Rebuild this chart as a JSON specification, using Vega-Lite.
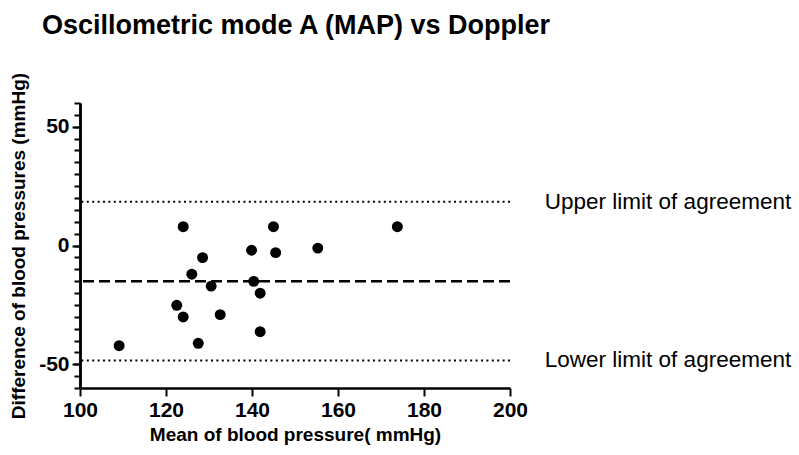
{
  "$schema": "https://vega.github.io/schema/vega-lite/v6.json",
  "width": 430,
  "height": 285,
  "autosize": {"type": "none"},
  "padding": {"left": 80, "top": 103, "right": 289, "bottom": 67},
  "background": "white",
  "title": {
    "text": "Oscillometric mode A (MAP) vs Doppler",
    "anchor": "start",
    "frame": "group",
    "dx": -38,
    "offset": 32,
    "font": "Liberation Sans",
    "fontSize": 27,
    "fontWeight": "bold",
    "color": "black"
  },
  "config": {
    "view": {"stroke": null},
    "axis": {
      "domainColor": "black",
      "domainWidth": 2.5,
      "tickColor": "black",
      "tickWidth": 2,
      "labelColor": "black",
      "titleColor": "black",
      "labelFont": "Liberation Sans",
      "titleFont": "Liberation Sans",
      "labelFontWeight": "bold",
      "titleFontWeight": "bold",
      "labelFontSize": 21,
      "titleFontSize": 19,
      "labelOverlap": false,
      "labelFlush": false,
      "grid": false
    }
  },
  "resolve": {"axis": {"y": "independent"}},
  "datasets": {
    "points": [
      {"mean": 109.1, "diff": -42.2},
      {"mean": 124.0, "diff": 7.9},
      {"mean": 128.5, "diff": -5.1},
      {"mean": 126.0, "diff": -12.1},
      {"mean": 130.5, "diff": -17.1},
      {"mean": 122.5, "diff": -25.2},
      {"mean": 124.0, "diff": -30.1},
      {"mean": 132.6, "diff": -29.1},
      {"mean": 127.5, "diff": -41.2},
      {"mean": 139.9, "diff": -2.0},
      {"mean": 145.0, "diff": 7.9},
      {"mean": 145.5, "diff": -3.0},
      {"mean": 140.4, "diff": -15.1},
      {"mean": 141.9, "diff": -20.1},
      {"mean": 141.9, "diff": -36.3},
      {"mean": 155.3, "diff": -1.1},
      {"mean": 173.8, "diff": 7.9}
    ],
    "limits": [
      {"label": "Upper limit of agreement", "value": 18.4},
      {"label": "Lower limit of agreement", "value": -48.4}
    ],
    "bias": [
      {"label": "Bias", "value": -15.0}
    ]
  },
  "layer": [
    {
      "data": {"name": "limits"},
      "mark": {"type": "rule", "strokeDash": [2, 3.4], "strokeWidth": 2, "color": "black"},
      "encoding": {
        "y": {
          "field": "value",
          "type": "quantitative",
          "scale": {"domain": [-60, 60], "nice": false, "zero": false},
          "axis": {
            "orient": "left",
            "title": null,
            "labels": false,
            "values": [-60, -55, -50, -45, -40, -35, -30, -25, -20, -15, -10, -5, 0, 5, 10, 15, 20, 25, 30, 35, 40, 45, 50, 55, 60],
            "tickSize": 6
          }
        }
      }
    },
    {
      "data": {"name": "bias"},
      "mark": {"type": "rule", "strokeDash": [11, 5], "strokeWidth": 2.5, "color": "black"},
      "encoding": {
        "y": {"field": "value", "type": "quantitative", "axis": null}
      }
    },
    {
      "data": {"name": "points"},
      "mark": {"type": "circle", "size": 120, "color": "black", "opacity": 1},
      "encoding": {
        "x": {
          "field": "mean",
          "type": "quantitative",
          "scale": {"domain": [100, 200], "nice": false, "zero": false},
          "axis": {
            "title": "Mean of blood pressure( mmHg)",
            "values": [100, 120, 140, 160, 180, 200],
            "tickSize": 8,
            "labelPadding": 3,
            "titlePadding": 5
          }
        },
        "y": {
          "field": "diff",
          "type": "quantitative",
          "axis": {
            "orient": "left",
            "title": "Difference of blood pressures (mmHg)",
            "values": [-50, 0, 50],
            "labelExpr": "datum.value < 0 ? '-' + abs(datum.value) : '' + datum.value",
            "tickSize": 8,
            "labelPadding": 3,
            "titlePadding": 10
          }
        }
      }
    },
    {
      "data": {"name": "limits"},
      "mark": {"type": "text", "align": "left", "baseline": "middle", "font": "Liberation Sans", "fontSize": 22.5, "color": "black", "clip": false},
      "encoding": {
        "x": {"datum": 208.1, "type": "quantitative"},
        "y": {"field": "value", "type": "quantitative", "axis": null},
        "text": {"field": "label", "type": "nominal"}
      }
    }
  ]
}
